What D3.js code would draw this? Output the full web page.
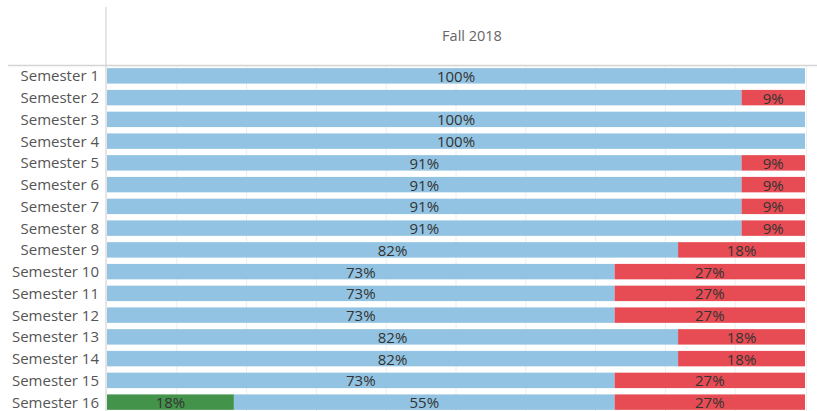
<!DOCTYPE html>
<html lang="en">
<head>
  <meta charset="UTF-8">
  <title>Fall 2018</title>
  <script src="https://d3js.org/d3.v7.min.js"></script>
  <style>
    body { margin: 0; background: #fff; }
    .row-label { font-family: "Open Sans", sans-serif; font-size: 15px; fill: #555; }
    .header { font-family: "Open Sans", sans-serif; font-size: 14.5px; fill: #666; }
    .label { font-family: "Open Sans", sans-serif; font-size: 15px; fill: #333; text-anchor: middle; }
  </style>
</head>
<body>
  <div id="chart"></div>
  <script>
    // students per semester, out of 11
    const semesters = d3.range(1, 17).map(i => `Semester ${i}`);
    const greenVals = [0, 0, 0, 0, 0, 0, 0, 0, 0, 0, 0, 0, 0, 0, 0, 2];
    const blueVals  = [11, 10, 11, 11, 10, 10, 10, 10, 9, 8, 8, 8, 9, 9, 8, 6];
    const redVals   = [0, 1, 0, 0, 1, 1, 1, 1, 2, 3, 3, 3, 2, 2, 3, 3];
    // Semester 2 shows no label on its blue segment
    const blueShown = [true, false, true, true, true, true, true, true, true, true, true, true, true, true, true, true];
    const column = "Fall 2018";
    const total = 11;

    const colors = { green: "#43944a", blue: "#92c3e2", red: "#e74c54" };

    const W = 817, H = 411;
    const mLeft = 107, mRight = 805, mTop = 65, mBottom = 413;

    const svg = d3.select("#chart").append("svg")
      .attr("width", W).attr("height", H);

    const x = d3.scaleLinear().domain([0, total]).range([mLeft, mRight]);
    const y = d3.scaleBand().domain(semesters).range([mTop, mBottom])
      .paddingInner(0.29).paddingOuter(0.145);

    // gridlines every 10%
    svg.append("g")
      .selectAll("line")
      .data(d3.range(0.1, 0.95, 0.1))
      .join("line")
      .attr("x1", d => x(d * total)).attr("x2", d => x(d * total))
      .attr("y1", mTop).attr("y2", H)
      .attr("stroke", "#eeeeee").attr("stroke-width", 1);

    svg.append("line")
      .attr("x1", mRight + 1.5).attr("x2", mRight + 1.5)
      .attr("y1", mTop).attr("y2", H)
      .attr("stroke", "#eeeeee");

    // header & frame lines
    svg.append("text").attr("class", "header")
      .attr("x", 472).attr("y", 41)
      .attr("text-anchor", "middle")
      .text(column);

    svg.append("line")
      .attr("x1", 8).attr("x2", W)
      .attr("y1", mTop + 0.5).attr("y2", mTop + 0.5)
      .attr("stroke", "#d4d4d4").attr("stroke-width", 1.5);

    svg.append("line")
      .attr("x1", mLeft - 1).attr("x2", mLeft - 1)
      .attr("y1", 7).attr("y2", H)
      .attr("stroke", "#d4d4d4").attr("stroke-width", 1.2);

    const segs = [];
    semesters.forEach((s, i) => {
      let start = 0;
      [["green", greenVals[i], true], ["blue", blueVals[i], blueShown[i]], ["red", redVals[i], true]]
        .forEach(([k, v, show]) => {
          if (v > 0) segs.push({ s, k, start, v, show });
          start += v;
        });
    });

    svg.append("g").selectAll("rect")
      .data(segs)
      .join("rect")
      .attr("x", d => x(d.start))
      .attr("y", d => y(d.s))
      .attr("width", d => x(d.start + d.v) - x(d.start))
      .attr("height", y.bandwidth())
      .attr("fill", d => colors[d.k]);

    svg.append("g").selectAll("text")
      .data(segs.filter(d => d.show))
      .join("text")
      .attr("class", "label")
      .attr("x", d => x(d.start + d.v / 2))
      .attr("y", d => y(d.s) + y.bandwidth() / 2)
      .attr("dy", "0.4em")
      .text(d => `${Math.round(d.v / total * 100)}%`);

    svg.append("g").selectAll("text")
      .data(semesters)
      .join("text")
      .attr("class", "row-label")
      .attr("x", 99)
      .attr("y", d => y(d) + y.bandwidth() / 2)
      .attr("dy", "0.36em")
      .attr("text-anchor", "end")
      .text(d => d);
  </script>
</body>
</html>
